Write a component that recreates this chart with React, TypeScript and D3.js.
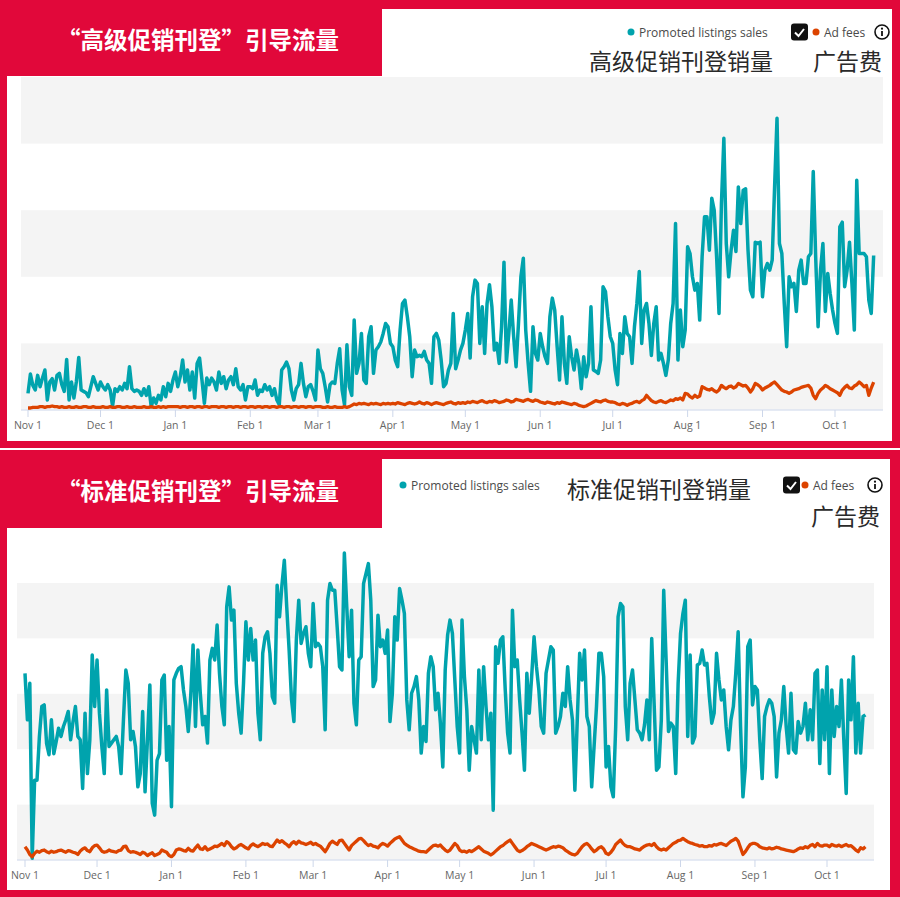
import React, { useRef, useEffect } from 'react';
import * as d3 from 'd3';

// 第一天 2022-11-01，每日一个点
const START_DATE = new Date(Date.UTC(2022, 10, 1));
const LAST_TICK = new Date(Date.UTC(2022, 9 + 12, 1));

// 高级促销刊登销量（每日）
const premiumSales = [
  25, 54, 37, 30, 52, 35, 48, 60, 15, 42, 47, 30, 52, 55, 38, 28, 76, 15, 42, 18, 42, 79, 30, 28, 26, 20, 35, 50, 40, 30,
  42, 35, 30, 38, 30, 6, 32, 28, 35, 30, 40, 32, 65, 32, 28, 30, 28, 22, 32, 22, 35, 5, 18, 10, 22, 15, 35, 20, 40, 28, 45,
  57, 35, 50, 75, 42, 60, 30, 57, 18, 70, 78, 45, 10, 48, 38, 48, 42, 30, 57, 40, 50, 32, 45, 50, 38, 62, 35, 30, 38, 15, 35,
  35, 32, 45, 22, 30, 28, 38, 30, 35, 22, 32, 15, 8, 60, 65, 72, 62, 30, 15, 32, 38, 70, 40, 20, 35, 38, 28, 15,
  90, 62, 55, 35, 12, 38, 42, 40, 70, 92, 30, 8, 98, 35, 22, 135, 55, 70, 115, 45, 40, 110, 125, 55, 90, 95, 102, 115, 130, 125, 100,
  95, 75, 65, 120, 160, 165, 140, 110, 50, 90, 80, 82, 80, 88, 75, 70, 40, 110, 115, 105, 75, 35, 40, 60, 70, 145, 62, 75, 90, 100,
  120, 145, 78, 170, 195, 190, 100, 155, 85, 160, 188, 155, 90, 100, 70, 125, 222, 72, 115, 165, 110, 65, 130, 200, 228, 120, 70, 28, 125, 85, 75,
  115, 95, 80, 70, 140, 168, 150, 95, 45, 140, 70, 40, 110, 80, 60, 90, 70, 32, 80, 50, 70, 155, 60, 58, 55, 75, 185, 178, 140, 110,
  100, 60, 38, 115, 85, 140, 115, 110, 70, 125, 160, 208, 100, 150, 160, 130, 82, 130, 155, 75, 85, 70, 52, 75, 130, 160, 280, 75, 150, 95, 120,
  245, 235, 200, 180, 190, 135, 230, 290, 290, 240, 318, 300, 230, 145, 310, 408, 250, 200, 240, 270, 238, 335, 280, 330, 332, 240, 180, 170, 252, 250, 252,
  170, 210, 220, 210, 225, 335, 438, 250, 235, 160, 95, 200, 185, 190, 148, 210, 225, 190, 190, 230, 235, 358, 230, 125, 210, 250, 148, 205, 175, 150,
  130, 115, 275, 282, 185, 210, 252, 190, 120, 345, 235, 235, 235, 230, 165, 145, 232
];

// 高级促销刊登广告费（每日）
const premiumAdFees = [
  3, 3, 4, 4, 4, 5, 5, 4, 5, 5, 6, 5, 5, 4, 5, 4, 4, 5, 4, 4, 5, 4, 4, 5, 5, 4, 4, 5, 4, 4,
  4, 5, 4, 4, 5, 4, 4, 5, 5, 4, 4, 5, 4, 4, 5, 4, 4, 4, 5, 4, 4, 5, 4, 4, 5, 4, 5, 4, 5, 5, 5,
  5, 5, 4, 5, 5, 4, 5, 5, 4, 5, 5, 4, 5, 5, 4, 5, 5, 5, 4, 5, 5, 4, 5, 5, 4, 5, 5, 4, 5, 5, 4,
  5, 5, 4, 5, 5, 4, 5, 5, 4, 5, 5, 4, 5, 5, 4, 5, 5, 4, 5, 5, 4, 5, 5, 4, 5, 5, 4, 5,
  5, 5, 4, 4, 5, 4, 4, 5, 4, 4, 4, 5, 4, 5, 7, 9, 8, 10, 9, 10, 9, 8, 10, 9, 10, 9, 8, 10, 9, 10, 9,
  10, 9, 11, 10, 9, 8, 10, 11, 10, 9, 10, 12, 10, 9, 11, 10, 8, 10, 11, 10, 9, 8, 10, 11, 12, 10, 9, 11, 10, 11,
  10, 12, 11, 13, 12, 11, 13, 14, 12, 11, 13, 12, 14, 13, 11, 12, 13, 15, 14, 12, 13, 16, 15, 14, 13, 15, 16, 14, 13, 15, 14,
  12, 11, 10, 12, 11, 10, 9, 11, 10, 12, 11, 10, 9, 8, 10, 9, 7, 6, 5, 6, 8, 10, 12, 14, 13, 12, 14, 15, 13, 12,
  12, 11, 9, 8, 10, 9, 7, 9, 10, 12, 13, 11, 14, 16, 22, 18, 14, 12, 11, 13, 14, 12, 11, 13, 15, 14, 17, 16, 18, 15, 25,
  24, 20, 18, 22, 19, 21, 35, 33, 31, 30, 32, 29, 27, 30, 37, 34, 32, 35, 36, 33, 35, 40, 38, 36, 37, 33, 27, 32, 40, 38, 35,
  30, 33, 35, 37, 40, 42, 38, 34, 30, 28, 27, 25, 27, 30, 31, 32, 34, 35, 36, 37, 33, 22, 17, 25, 30, 33, 37, 35, 32, 30,
  28, 26, 22, 30, 34, 37, 33, 32, 36, 38, 42, 39, 35, 37, 22, 33, 42
];

// 标准促销刊登销量（每日）
const standardSales = [
  337, 253, 319, 3, 144, 144, 223, 277, 280, 210, 190, 253, 192, 214, 238, 223, 241, 253, 268, 217, 250, 277, 223, 217, 129, 265, 156, 217, 370, 277,
  361, 265, 205, 156, 307, 205, 211, 217, 223, 205, 156, 253, 343, 319, 217, 232, 205, 132, 156, 268, 123, 217, 316, 102, 81, 180, 192, 325, 334, 180, 241,
  96, 325, 337, 346, 349, 307, 277, 232, 295, 388, 241, 379, 301, 244, 259, 211, 361, 382, 361, 424, 337, 277, 244, 457, 493, 433, 451, 319, 265, 229, 319,
  430, 361, 418, 361, 397, 265, 217, 373, 403, 412, 373, 295, 283, 496, 439, 496, 541, 457, 379, 289, 250, 397, 469, 391, 409, 421, 373, 349,
  463, 385, 391, 385, 349, 235, 469, 499, 487, 487, 421, 349, 343, 554, 457, 367, 451, 283, 244, 361, 367, 499, 517, 535, 469, 313, 325, 442, 385, 397, 373,
  415, 250, 301, 439, 397, 490, 469, 445, 289, 235, 301, 313, 331, 289, 193, 241, 214, 337, 367, 349, 271, 301, 247, 168, 343, 406, 433, 409, 325, 241,
  193, 433, 331, 271, 162, 241, 217, 193, 343, 217, 349, 277, 217, 265, 90, 385, 355, 397, 403, 307, 229, 193, 451, 349, 361, 289, 229, 162, 337, 265, 331,
  403, 349, 307, 241, 229, 337, 361, 385, 379, 229, 241, 259, 301, 277, 349, 289, 253, 126, 253, 373, 325, 379, 259, 241, 132, 205, 277, 373, 373, 331,
  168, 205, 132, 114, 241, 439, 463, 457, 277, 217, 319, 343, 289, 235, 229, 217, 244, 289, 217, 400, 283, 162, 168, 253, 487, 361, 232, 247, 241, 156, 319,
  409, 445, 469, 223, 370, 211, 223, 352, 355, 379, 352, 355, 295, 247, 265, 373, 325, 289, 307, 241, 199, 253, 277, 337, 412, 241, 114, 168, 385, 397, 280,
  313, 307, 217, 147, 259, 277, 289, 283, 259, 150, 229, 253, 313, 241, 193, 301, 199, 193, 250, 229, 241, 283, 217, 271, 217, 337, 343, 174, 307, 217,
  349, 156, 307, 223, 277, 241, 325, 217, 120, 325, 253, 367, 193, 283, 193, 259, 262
];

// 标准促销刊登广告费（每日）
const standardAdFees = [
  24, 18, 10, 6, 12, 16, 14, 17, 18, 15, 13, 16, 14, 15, 17, 18, 16, 14, 17, 16, 14, 13, 10, 16, 20, 22, 17, 15, 22, 26,
  27, 22, 16, 14, 15, 18, 16, 15, 14, 17, 18, 24, 25, 17, 14, 15, 14, 12, 10, 14, 12, 8, 11, 13, 8, 10, 12, 18, 16, 14, 8,
  6, 10, 18, 20, 19, 17, 16, 21, 17, 16, 22, 27, 20, 19, 24, 18, 20, 22, 25, 24, 27, 30, 26, 33, 30, 24, 20, 22, 26, 28, 25,
  22, 20, 26, 29, 26, 24, 27, 30, 28, 29, 25, 24, 30, 36, 32, 35, 31, 28, 24, 30, 33, 29, 34, 31, 30, 28, 30, 32,
  28, 30, 27, 25, 20, 15, 22, 30, 34, 31, 28, 35, 36, 30, 24, 18, 26, 30, 34, 38, 39, 35, 30, 26, 28, 25, 24, 22, 27, 30, 28,
  25, 30, 34, 38, 40, 42, 36, 30, 27, 24, 22, 20, 18, 16, 15, 15, 14, 18, 22, 26, 27, 25, 27, 22, 18, 15, 18, 24, 30, 26,
  18, 15, 16, 14, 17, 15, 18, 21, 24, 20, 16, 14, 12, 9, 12, 16, 20, 24, 26, 30, 33, 36, 30, 24, 18, 15, 17, 20, 24, 27, 30,
  28, 26, 24, 22, 20, 18, 20, 22, 24, 23, 25, 24, 22, 18, 15, 12, 10, 9, 12, 18, 24, 28, 30, 26, 20, 15, 18, 22, 24, 20,
  12, 10, 14, 20, 28, 32, 36, 30, 26, 24, 24, 22, 20, 19, 18, 22, 25, 27, 28, 26, 30, 24, 20, 18, 20, 18, 22, 26, 30, 32, 35,
  36, 39, 36, 33, 31, 30, 28, 27, 25, 26, 24, 24, 26, 25, 28, 27, 29, 30, 28, 26, 30, 34, 36, 39, 34, 22, 10, 15, 22, 28, 30,
  30, 28, 24, 22, 21, 20, 22, 20, 21, 23, 22, 20, 19, 18, 17, 16, 15, 17, 20, 22, 21, 24, 22, 26, 28, 24, 30, 26, 25, 27,
  27, 24, 28, 26, 25, 27, 24, 26, 28, 25, 26, 22, 18, 15, 22, 20, 24
];

// 背景条带（值域内）
const bandStops = [0, 100, 200, 300, 400, 500];

const TITLE_TOP = '“高级促销刊登”引导流量';
const TITLE_BOTTOM = '“标准促销刊登”引导流量';
const LEGEND_SALES = 'Promoted listings sales';
const LEGEND_FEES = 'Ad fees';

const RED = '#e1083a';
const TEAL = '#00a3ad';
const ORANGE = '#dc4300';
const CJK = '"Noto Sans CJK SC", sans-serif';
const LATIN = '"Open Sans", sans-serif';

interface PanelLayout {
  top: number;
  height: number;
  innerRight: number;
  titleHeight: number;
  plotLeft: number;
  plotRight: number;
  plotTop: number;
  baseline: number;
  xNov: number;
  xOct: number;
  title: string;
  salesLabel: string;
  sales: number[];
  fees: number[];
  legend: {
    dotX: number;
    y: number;
    checkX: number;
    feeDotX: number;
    infoX: number;
    cnSales: { x: number; y: number; anchor: string };
    cnFees: { x: number; y: number };
  };
}

function drawPanel(svg: d3.Selection<SVGSVGElement, unknown, null, undefined>, p: PanelLayout) {
  const g = svg.append('g');

  // 红色边框 + 白色内框 + 标题块
  g.append('rect').attr('x', 0).attr('y', p.top).attr('width', 900).attr('height', p.height).attr('fill', RED);
  g.append('rect')
    .attr('x', 7)
    .attr('y', p.top + 9)
    .attr('width', p.innerRight - 7)
    .attr('height', p.height - 16)
    .attr('fill', '#fff');
  g.append('rect').attr('x', 0).attr('y', p.top).attr('width', 382).attr('height', p.titleHeight).attr('fill', RED);
  g.append('text')
    .attr('x', 198)
    .attr('y', p.top + p.titleHeight / 2 + 1)
    .attr('text-anchor', 'middle')
    .attr('dominant-baseline', 'central')
    .attr('fill', '#fff')
    .attr('font-family', CJK)
    .attr('font-weight', 700)
    .attr('font-size', 23.5)
    .text(p.title);

  // 图例
  const L = p.legend;
  g.append('circle').attr('cx', L.dotX).attr('cy', L.y).attr('r', 3.5).attr('fill', TEAL);
  g.append('text')
    .attr('x', L.dotX + 8)
    .attr('y', L.y)
    .attr('dominant-baseline', 'central')
    .attr('font-family', LATIN)
    .attr('font-size', 12)
    .attr('fill', '#4a4a4a')
    .text(LEGEND_SALES);
  g.append('rect')
    .attr('x', L.checkX)
    .attr('y', L.y - 8.5)
    .attr('width', 17)
    .attr('height', 17)
    .attr('rx', 3)
    .attr('fill', '#111');
  g.append('path')
    .attr('d', `M${L.checkX + 4},${L.y + 0.5}L${L.checkX + 7.5},${L.y + 4}L${L.checkX + 13},${L.y - 3}`)
    .attr('fill', 'none')
    .attr('stroke', '#fff')
    .attr('stroke-width', 2);
  g.append('circle').attr('cx', L.feeDotX).attr('cy', L.y).attr('r', 3.5).attr('fill', ORANGE);
  g.append('text')
    .attr('x', L.feeDotX + 8)
    .attr('y', L.y)
    .attr('dominant-baseline', 'central')
    .attr('font-family', LATIN)
    .attr('font-size', 12)
    .attr('fill', '#4a4a4a')
    .text(LEGEND_FEES);
  g.append('circle')
    .attr('cx', L.infoX)
    .attr('cy', L.y)
    .attr('r', 7)
    .attr('fill', 'none')
    .attr('stroke', '#111')
    .attr('stroke-width', 1.6);
  g.append('circle').attr('cx', L.infoX).attr('cy', L.y - 3.3).attr('r', 1.1).attr('fill', '#111');
  g.append('line')
    .attr('x1', L.infoX)
    .attr('x2', L.infoX)
    .attr('y1', L.y - 1)
    .attr('y2', L.y + 4)
    .attr('stroke', '#111')
    .attr('stroke-width', 1.8);
  g.append('text')
    .attr('x', L.cnSales.x)
    .attr('y', L.cnSales.y)
    .attr('text-anchor', L.cnSales.anchor)
    .attr('dominant-baseline', 'central')
    .attr('font-family', CJK)
    .attr('font-size', 23)
    .attr('fill', '#2a2a2a')
    .text(p.salesLabel);
  g.append('text')
    .attr('x', L.cnFees.x)
    .attr('y', L.cnFees.y)
    .attr('text-anchor', 'end')
    .attr('dominant-baseline', 'central')
    .attr('font-family', CJK)
    .attr('font-size', 23)
    .attr('fill', '#2a2a2a')
    .text('广告费');

  // 比例尺
  const x = d3.scaleUtc().domain([START_DATE, LAST_TICK]).range([p.xNov, p.xOct]);
  const y = d3
    .scaleLinear()
    .domain([0, 500])
    .range([p.baseline, p.plotTop]);

  // 灰白相间的背景条带
  const bands = d3.range(0, bandStops.length - 1, 2).map((i) => [bandStops[i], bandStops[i + 1]]);
  g.selectAll()
    .data(bands)
    .enter()
    .append('rect')
    .attr('x', p.plotLeft)
    .attr('width', p.plotRight - p.plotLeft)
    .attr('y', (d) => y(d[1]))
    .attr('height', (d) => y(d[0]) - y(d[1]))
    .attr('fill', '#f4f4f4');

  // x 轴
  g.append('line')
    .attr('x1', p.plotLeft)
    .attr('x2', p.plotRight)
    .attr('y1', p.baseline)
    .attr('y2', p.baseline)
    .attr('stroke', '#dce3f1')
    .attr('stroke-width', 1.5);
  const ticks = d3.utcMonth.range(START_DATE, d3.utcDay.offset(LAST_TICK, 1));
  const fmt = d3.utcFormat('%b %-d');
  g.selectAll()
    .data(ticks)
    .enter()
    .append('line')
    .attr('x1', (d) => x(d))
    .attr('x2', (d) => x(d))
    .attr('y1', p.baseline)
    .attr('y2', p.baseline + 7)
    .attr('stroke', '#cdd7ea')
    .attr('stroke-width', 1);
  g.selectAll()
    .data(ticks)
    .enter()
    .append('text')
    .attr('x', (d) => x(d))
    .attr('y', p.baseline + 15)
    .attr('text-anchor', 'middle')
    .attr('dominant-baseline', 'central')
    .attr('font-family', LATIN)
    .attr('font-size', 10.5)
    .attr('fill', '#666')
    .text((d) => fmt(d));

  // 折线
  const line = d3
    .line<number>()
    .x((_, i) => x(d3.utcDay.offset(START_DATE, i)))
    .y((d) => y(d));
  g.append('path')
    .attr('d', line(p.sales) as string)
    .attr('fill', 'none')
    .attr('stroke', TEAL)
    .attr('stroke-width', 3.5)
    .attr('stroke-linejoin', 'round');
  g.append('path')
    .attr('d', line(p.fees) as string)
    .attr('fill', 'none')
    .attr('stroke', ORANGE)
    .attr('stroke-width', 3.3)
    .attr('stroke-linejoin', 'round');
}

const panels: PanelLayout[] = [
  {
    top: 0,
    height: 448,
    innerRight: 892,
    titleHeight: 76,
    plotLeft: 21,
    plotRight: 883,
    plotTop: 77,
    baseline: 410,
    xNov: 28,
    xOct: 835,
    title: TITLE_TOP,
    salesLabel: '高级促销刊登销量',
    sales: premiumSales,
    fees: premiumAdFees,
    legend: {
      dotX: 631,
      y: 32,
      checkX: 791,
      feeDotX: 816,
      infoX: 882,
      cnSales: { x: 773, y: 60, anchor: 'end' },
      cnFees: { x: 882, y: 60 }
    }
  },
  {
    top: 450,
    height: 447,
    innerRight: 890,
    titleHeight: 78,
    plotLeft: 17,
    plotRight: 874,
    plotTop: 583,
    baseline: 860,
    xNov: 25,
    xOct: 827,
    title: TITLE_BOTTOM,
    salesLabel: '标准促销刊登销量',
    sales: standardSales,
    fees: standardAdFees,
    legend: {
      dotX: 403,
      y: 485,
      checkX: 783,
      feeDotX: 805,
      infoX: 875,
      cnSales: { x: 567, y: 488, anchor: 'start' },
      cnFees: { x: 880, y: 515 }
    }
  }
];

export default function App(): JSX.Element {
  const svgRef = useRef<SVGSVGElement>(null);

  useEffect(() => {
    const el = svgRef.current;
    if (el == null) {
      return;
    }
    const svg = d3.select(el);
    svg.selectAll('*').remove();
    for (const p of panels) {
      drawPanel(svg, p);
    }
  }, []);

  return (
    <svg
      ref={svgRef}
      width={900}
      height={897}
      style={{ position: 'absolute', left: 0, top: 0, background: '#fff' }}
    />
  );
}
